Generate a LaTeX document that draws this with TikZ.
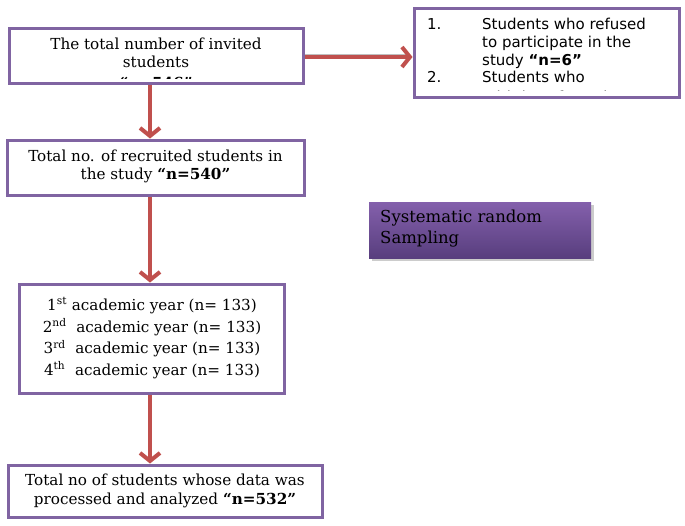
\documentclass[tikz,border=0pt]{standalone}
\usepackage{fontspec}
\setmainfont{DejaVu Serif}
\newfontfamily\sansf{DejaVu Sans}
\usetikzlibrary{arrows.meta}
\definecolor{boxpurple}{HTML}{8064A2}
\definecolor{arrred}{HTML}{C0504D}
\definecolor{gradtop}{HTML}{8460AC}
\definecolor{gradbot}{HTML}{583E7E}
\tikzset{
  box/.style={draw=boxpurple, line width=3pt, inner sep=0pt},
  ln/.style={anchor=base, inner sep=0pt, font=\fontsize{15.2}{18}\selectfont},
  lns/.style={anchor=base west, inner sep=0pt, font=\sansf\fontsize{15}{18}\selectfont},
  arr/.style={draw=arrred, line width=4pt, -{Straight Barb[length=8pt,width=20pt]}},
}
\begin{document}
\begin{tikzpicture}[x=1pt,y=-1pt]
\useasboundingbox (0,0) rectangle (685,525);
% systematic box
\fill[gray!40] (372,205) rectangle (594,261);
\node[inner sep=0pt, minimum width=222pt, minimum height=56pt, top color=gradtop, bottom color=gradbot] (sys) at (480,230) {};
% texts box1 (clipped)
\begin{scope}
\clip (10,29) rectangle (302,78.5);
\node[ln] (t1a) at (156,49) {The total number of invited};
\node[ln] (t1b) at (156,67) {students};
\node[ln] (t1c) at (156,88.5) {\textbf{“n=546”}};
\end{scope}
% texts box2 (clipped)
\begin{scope}
\clip (415,9) rectangle (678,90.5);
\node[lns] (n1) at (427,29) {1.};
\node[lns] (t2a) at (482,29) {Students who refused};
\node[lns] (t2b) at (482,47) {to participate in the};
\node[lns] (t2c) at (482,65) {study \textbf{“n=6”}};
\node[lns] (n2) at (427,82.5) {2.};
\node[lns] (t2d) at (482,82.5) {Students who};
\node[lns] (t2e) at (482,102.5) {Withdrew from the};
\end{scope}
% boxes
\node[box, minimum width=294pt, minimum height=55pt] (b1) at (156,55.5) {};
\node[box, minimum width=265pt, minimum height=89pt] (b2) at (546.5,52.5) {};
\node[box, minimum width=297pt, minimum height=55pt] (b3) at (155.5,167.5) {};
\node[box, minimum width=265pt, minimum height=109pt] (b4) at (151.5,338.5) {};
\node[box, minimum width=314pt, minimum height=52pt] (b5) at (165,491) {};
% box3
\node[ln] (t3a) at (155.5,161) {Total no. of recruited students in};
\node[ln] (t3b) at (155.5,179) {the study \textbf{“n=540”}};
% systematic
\node[anchor=base west, inner sep=0pt, font=\fontsize{16.5}{18}\selectfont] (s1) at (380,222) {Systematic random};
\node[anchor=base west, inner sep=0pt, font=\fontsize{16.5}{18}\selectfont] (s2) at (380,243) {Sampling};
% box4
\node[ln] (y1) at (152,310) {1\textsuperscript{st} academic year (n= 133)};
\node[ln] (y2) at (152,332) {2\textsuperscript{nd}\ \ academic year (n= 133)};
\node[ln] (y3) at (152,353.5) {3\textsuperscript{rd}\ \ academic year (n= 133)};
\node[ln] (y4) at (152,375) {4\textsuperscript{th}\ \ academic year (n= 133)};
% box5
\node[ln] (t5a) at (165,485) {Total no of students whose data was};
\node[ln] (t5b) at (165,504) {processed and analyzed \textbf{“n=532”}};
% arrows
\coordinate (h1) at (b1.east |- 0,57);
\coordinate (h2) at (b2.west |- 0,57);
\draw[gray!50, line width=2pt] ([yshift=2.5pt]h1) -- ([xshift=-6pt,yshift=2.5pt]h2);
\draw[arr] (h1) -- (h2);
\draw[arr] (b1.south -| 150,0) -- (b3.north -| 150,0);
\draw[arr] (b3.south -| 150,0) -- (b4.north -| 150,0);
\draw[arr] (b4.south -| 150,0) -- (b5.north -| 150,0);
\end{tikzpicture}
\end{document}
